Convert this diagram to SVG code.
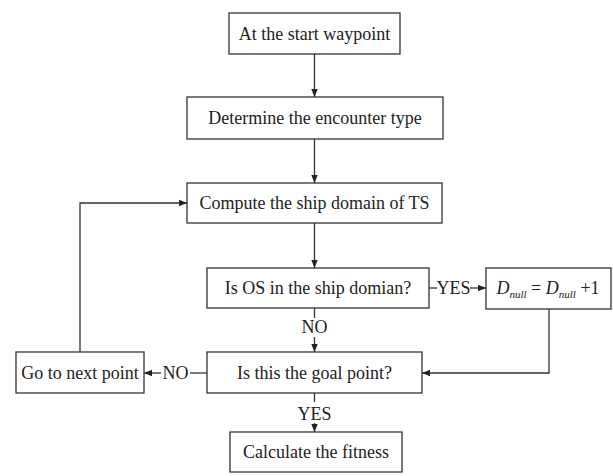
<svg xmlns="http://www.w3.org/2000/svg" width="613" height="476" viewBox="0 0 613 476">
<style>
rect{fill:#fff;stroke:#333;stroke-width:1.3}
text{font-family:"Liberation Serif","Times New Roman",serif;font-size:18px;fill:#222;text-anchor:middle}
.c{fill:none;stroke:#333;stroke-width:1.3}
.i{font-style:italic}
</style>
<defs>
<marker id="a" viewBox="0 0 10 10" refX="10" refY="5" markerWidth="8" markerHeight="8" markerUnits="userSpaceOnUse" orient="auto"><path d="M0,1 L10,5 L0,9 Z" fill="#222"/></marker>
</defs>
<g id="connectors">
<path class="c" d="M314.5,54 V97" marker-end="url(#a)"/>
<path class="c" d="M314.5,139 V183" marker-end="url(#a)"/>
<path class="c" d="M314.5,223 V268" marker-end="url(#a)"/>
<path class="c" d="M314.5,308 V318"/>
<text x="314.5" y="333">NO</text>
<path class="c" d="M314.5,337 V352" marker-end="url(#a)"/>
<path class="c" d="M429,288 H437"/>
<text x="453.5" y="294">YES</text>
<path class="c" d="M470,288 H486" marker-end="url(#a)"/>
<path class="c" d="M549,309 V373 H422" marker-end="url(#a)"/>
<path class="c" d="M207,373 H190"/>
<text x="175.5" y="379">NO</text>
<path class="c" d="M161,373 H144" marker-end="url(#a)"/>
<path class="c" d="M314.5,393 V402"/>
<text x="314.5" y="420">YES</text>
<path class="c" d="M314.5,423 V432" marker-end="url(#a)"/>
<path class="c" d="M80,352 V203 H187" marker-end="url(#a)"/>
</g>
<g id="n1"><rect x="229" y="13" width="171" height="41"/><text x="314.5" y="40">At the start waypoint</text></g>
<g id="n2"><rect x="187" y="97" width="256" height="42"/><text x="315" y="124">Determine the encounter type</text></g>
<g id="n3"><rect x="187" y="183" width="255" height="40"/><text x="314.5" y="209">Compute the ship domain of TS</text></g>
<g id="n4"><rect x="207" y="268" width="222" height="40"/><text x="318" y="294">Is OS in the ship domian?</text></g>
<g id="n5"><rect x="486" y="268" width="125" height="41"/><text x="548" y="294" xml:space="preserve"><tspan class="i">D</tspan><tspan class="i" font-size="11" dy="4">null</tspan><tspan dy="-4"> = </tspan><tspan class="i">D</tspan><tspan class="i" font-size="11" dy="4">null</tspan><tspan dy="-4"> +1</tspan></text></g>
<g id="n6"><rect x="207" y="352" width="215" height="41"/><text x="314.5" y="379">Is this the goal point?</text></g>
<g id="n7"><rect x="16" y="352" width="128" height="41"/><text x="80" y="379">Go to next point</text></g>
<g id="n8"><rect x="230" y="432" width="172" height="40"/><text x="316" y="458">Calculate the fitness</text></g>
</svg>
